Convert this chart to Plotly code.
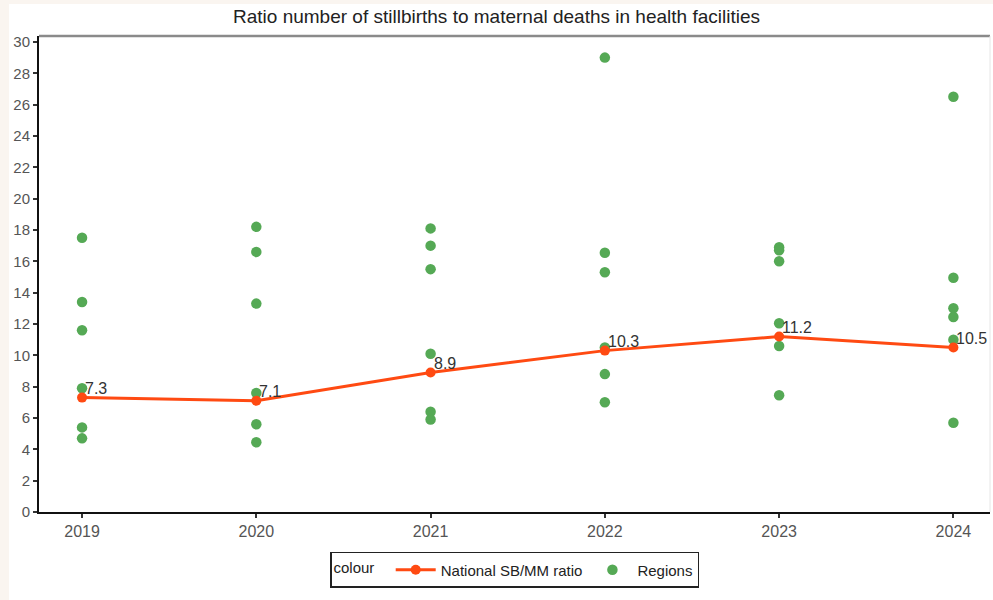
import plotly.graph_objects as go

years = [2019, 2020, 2021, 2022, 2023, 2024]
national_ratio = [7.3, 7.1, 8.9, 10.3, 11.2, 10.5]

# Regional ratios per year (six regions each)
region_values = {
    2019: [17.5, 13.4, 11.6, 7.9, 5.4, 4.7],
    2020: [18.2, 16.6, 13.3, 7.6, 5.6, 4.45],
    2021: [18.1, 17.0, 15.5, 10.1, 6.4, 5.9],
    2022: [29.0, 16.55, 15.3, 10.5, 8.8, 7.0],
    2023: [16.9, 16.7, 16.0, 12.05, 10.6, 7.45],
    2024: [26.5, 14.95, 13.0, 12.45, 11.0, 5.7],
}

title_text = "Ratio number of stillbirths to maternal deaths in health facilities"
y_ticks = list(range(0, 31, 2))

GREEN = "#55a955"
RED = "#ff4a12"
FONT = "Liberation Sans, Arial, sans-serif"

reg_x = [y for y in years for _ in region_values[y]]
reg_y = [v for y in years for v in region_values[y]]

fig = go.Figure()

fig.add_trace(go.Scatter(
    x=reg_x, y=reg_y, mode="markers", name="Regions",
    marker=dict(color=GREEN, size=10.5, line=dict(width=0)),
    showlegend=True,
))

fig.add_trace(go.Scatter(
    x=years, y=national_ratio, mode="lines+markers", name="National SB/MM ratio",
    line=dict(color=RED, width=3),
    marker=dict(color=RED, size=10),
))

# Value labels next to each national point
for yr, v in zip(years, national_ratio):
    fig.add_annotation(
        x=yr, y=v, text=f"{v:.1f}", showarrow=False,
        xanchor="left", yanchor="middle", xshift=1, yshift=9,
        font=dict(family=FONT, size=16, color="#333333"),
    )

fig.update_layout(
    width=993, height=600,
    margin=dict(l=39, r=3, t=36, b=88),
    paper_bgcolor="#faf5f0", plot_bgcolor="white",
    title=dict(text=title_text, x=0.5, xanchor="center", y=0.972, yanchor="middle",
               font=dict(family=FONT, size=19, color="#222222")),
    font=dict(family=FONT),
    legend=dict(
        orientation="h", x=0.5, xanchor="center", y=-0.084, yanchor="top",
        bordercolor="#222222", borderwidth=1.5, bgcolor="white",
        title=dict(text="colour  ", side="left", font=dict(family=FONT, size=15, color="#222222")),
        font=dict(family=FONT, size=15, color="#222222"),
        traceorder="reversed",
        itemwidth=40,
    ),
    showlegend=True,
)

fig.update_xaxes(
    range=[2018.753, 2024.21], tickvals=years, ticktext=[str(y) for y in years],
    showgrid=False, zeroline=False,
    showline=True, linecolor="#111111", linewidth=2,
    ticks="outside", ticklen=4, tickwidth=1.5, tickcolor="#333333",
    tickfont=dict(family=FONT, size=16, color="#555555"),
)
fig.update_yaxes(
    range=[0, 30.38], tickvals=y_ticks,
    showgrid=False, zeroline=False,
    showline=True, linecolor="#111111", linewidth=2,
    ticks="outside", ticklen=4, tickwidth=1.5, tickcolor="#333333",
    tickfont=dict(family=FONT, size=15, color="#555555"),
)

# White page area inside the thin tinted outer edge
fig.add_shape(type="rect", xref="paper", yref="paper", layer="below",
              x0=-0.0315, x1=1.0035, y0=-0.19, y1=1.067,
              fillcolor="white", line=dict(width=0))

# Top and right panel borders
fig.add_shape(type="line", xref="paper", yref="paper", x0=0, x1=1, y0=1, y1=1,
              line=dict(color="#8a8a8a", width=2.5))
fig.add_shape(type="line", xref="paper", yref="paper", x0=1, x1=1, y0=0, y1=1,
              line=dict(color="#e6e6e6", width=1))

fig.write_html("out.html")
